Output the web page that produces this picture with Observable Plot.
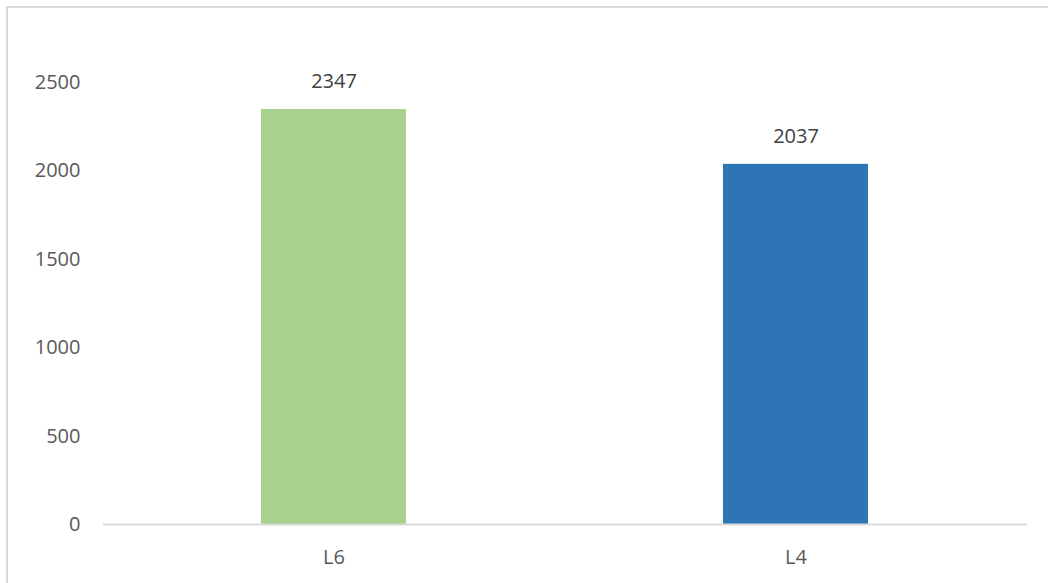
<!DOCTYPE html>
<html>
<head>
<meta charset="utf-8">
<script src="https://cdn.jsdelivr.net/npm/d3@7"></script>
<script src="https://cdn.jsdelivr.net/npm/@observablehq/plot@0.6"></script>
<style>
  html, body { margin: 0; padding: 0; background: #fff; }
  #wrap { position: relative; width: 1048px; height: 583px; overflow: hidden; }
  #frame { position: absolute; left: 6px; top: 6px; width: 1100px; height: 700px;
           border-left: 2px solid #d9d9d9; border-top: 2px solid #d9d9d9; box-sizing: border-box; pointer-events: none; }
</style>
</head>
<body>
<div id="wrap"><div id="frame"></div></div>
<script>
const categories = ["L6", "L4"];
const values = [2347, 2037];
const barColors = ["#A9D18E", "#2E75B6"];
const yTicks = [0, 500, 1000, 1500, 2000, 2500];

const data = categories.map((c, i) => ({category: c, value: values[i], color: barColors[i]}));

const chart = Plot.plot({
  width: 1048,
  height: 583,
  marginLeft: 103,
  marginRight: 21,
  marginTop: 82,
  marginBottom: 59,
  style: {fontFamily: "'Open Sans', sans-serif", fontSize: "20px", color: "#595959", background: "transparent"},
  x: {domain: categories, paddingInner: 0.686, paddingOuter: 0.343, label: null},
  y: {domain: [0, 2500], label: null},
  marks: [
    Plot.barY(data, {x: "category", y: "value", fill: "color"}),
    Plot.ruleY([0], {stroke: "#d9d9d9", strokeWidth: 2}),
    Plot.text(data, {x: "category", y: "value", text: d => String(d.value), dy: -28, fill: "#404040", fontSize: 20}),
    Plot.axisY({ticks: yTicks, tickFormat: d => String(d), tickSize: 0, tickPadding: 23, fill: "#595959", fontSize: 20, label: null}),
    Plot.axisX({tickSize: 0, tickPadding: 25, fill: "#595959", fontSize: 20, label: null})
  ]
});
document.getElementById("wrap").insertBefore(chart, document.getElementById("frame"));
</script>
</body>
</html>
